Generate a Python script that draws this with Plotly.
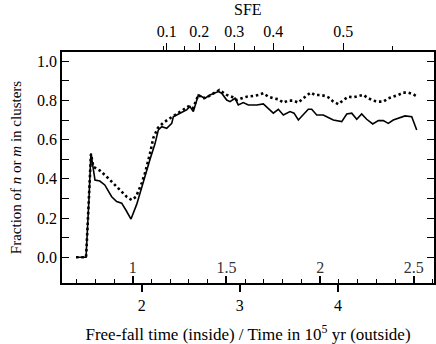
import plotly.graph_objects as go

# time in 1e5 yr (outer bottom axis) and cluster fractions
T_SOLID = [1.331, 1.433, 1.463, 1.483, 1.524, 1.573, 1.624, 1.655, 1.694, 1.745,
           1.796, 1.840, 1.891, 1.949, 1.983, 2.034, 2.085, 2.136, 2.169, 2.204,
           2.255, 2.306, 2.322, 2.390, 2.458, 2.492, 2.526, 2.577, 2.611, 2.645,
           2.696, 2.747, 2.780, 2.815, 2.866, 2.900, 2.951, 2.984, 3.035, 3.086,
           3.172, 3.239, 3.290, 3.341, 3.392, 3.443, 3.511, 3.552, 3.596, 3.646,
           3.697, 3.732, 3.783, 3.850, 3.911, 3.952, 4.038, 4.089, 4.140, 4.191,
           4.241, 4.292, 4.354, 4.411, 4.462, 4.512, 4.563, 4.632, 4.683, 4.751,
           4.802]
N_FRAC = [0.0, 0.0, 0.30, 0.530, 0.394, 0.389, 0.369, 0.345, 0.309, 0.284,
          0.276, 0.240, 0.195, 0.270, 0.330, 0.410, 0.500, 0.580, 0.649, 0.666,
          0.658, 0.683, 0.717, 0.735, 0.752, 0.769, 0.743, 0.828, 0.819, 0.811,
          0.828, 0.837, 0.845, 0.837, 0.802, 0.794, 0.811, 0.777, 0.789, 0.777,
          0.777, 0.782, 0.760, 0.735, 0.755, 0.726, 0.743, 0.735, 0.700, 0.726,
          0.755, 0.755, 0.726, 0.726, 0.709, 0.700, 0.692, 0.731, 0.735, 0.704,
          0.731, 0.704, 0.680, 0.697, 0.697, 0.683, 0.700, 0.714, 0.721, 0.717,
          0.649]

T_DOT = [1.331, 1.382, 1.433, 1.448, 1.463, 1.483, 1.507, 1.575, 1.643, 1.711,
         1.779, 1.847, 1.898, 1.942, 2.000, 2.034, 2.085, 2.118, 2.166, 2.220,
         2.288, 2.373, 2.424, 2.475, 2.523, 2.577, 2.625, 2.676, 2.747, 2.791,
         2.815, 2.866, 2.917, 2.968, 3.019, 3.070, 3.137, 3.188, 3.239, 3.290,
         3.341, 3.392, 3.443, 3.494, 3.545, 3.596, 3.646, 3.687, 3.722, 3.766,
         3.817, 3.868, 3.901, 3.952, 4.003, 4.054, 4.105, 4.156, 4.207, 4.258,
         4.309, 4.360, 4.411, 4.462, 4.512, 4.563, 4.614, 4.665, 4.716, 4.761,
         4.795]
M_FRAC = [0.0, 0.0, 0.0, 0.15, 0.30, 0.527, 0.462, 0.442, 0.411, 0.378,
          0.343, 0.309, 0.292, 0.309, 0.378, 0.430, 0.530, 0.609, 0.660, 0.686,
          0.709, 0.735, 0.752, 0.769, 0.760, 0.828, 0.810, 0.820, 0.840, 0.853,
          0.845, 0.828, 0.819, 0.802, 0.811, 0.819, 0.823, 0.828, 0.837, 0.819,
          0.811, 0.806, 0.789, 0.799, 0.799, 0.789, 0.811, 0.828, 0.840, 0.828,
          0.828, 0.823, 0.816, 0.794, 0.781, 0.802, 0.819, 0.816, 0.823, 0.828,
          0.811, 0.799, 0.794, 0.794, 0.811, 0.819, 0.828, 0.840, 0.840, 0.833,
          0.823]

# top axis: star formation efficiency at given times
SFE_MAJOR_T = [2.254, 2.586, 2.944, 3.341, 4.054]
SFE_MAJOR_LABELS = ["0.1", "0.2", "0.3", "0.4", "0.5"]
SFE_MINOR_T = [2.220, 2.441, 2.747, 3.148, 3.652, 4.557]

# inner bottom axis: free-fall times
FF_TICKS = [1, 1.5, 2, 2.5]
FF_LABELS = ["1", "1.5", "2", "2.5"]
FF_MINOR = [0.7, 0.8, 0.9, 1.1, 1.2, 1.3, 1.4, 1.6, 1.7, 1.8, 1.9,
            2.1, 2.2, 2.3, 2.4, 2.6]
T_FF = 1.909  # 1e5 yr per free-fall time

TIME_TICKS = [2, 3, 4]
Y_TICKS = [0.0, 0.1, 0.2, 0.3, 0.4, 0.5, 0.6, 0.7, 0.8, 0.9, 1.0]
Y_LABELS = ["0.0", "", "0.2", "", "0.4", "", "0.6", "", "0.8", "", "1.0"]

X_RANGE = [1.188, 4.978]
Y_RANGE = [-0.131, 1.047]

FONT = "Liberation Serif, Times New Roman, Times, DejaVu Serif, serif"

fig = go.Figure()
fig.add_trace(go.Scatter(x=T_SOLID, y=N_FRAC, mode="lines",
                         line=dict(color="black", width=1.6)))
fig.add_trace(go.Scatter(x=T_DOT, y=M_FRAC, mode="lines",
                         line=dict(color="black", width=2.6, dash="2.5px,2.8px")))
# empty traces so the overlaid axes get drawn
fig.add_trace(go.Scatter(x=[None], y=[None], xaxis="x2", yaxis="y",
                         hoverinfo="skip"))
fig.add_trace(go.Scatter(x=[None], y=[None], xaxis="x3", yaxis="y",
                         hoverinfo="skip"))

fig.update_layout(
    width=436, height=344,
    margin=dict(l=62, r=2, t=52, b=61),
    paper_bgcolor="white", plot_bgcolor="white",
    showlegend=False,
    font=dict(family=FONT, size=16, color="black"),
    xaxis=dict(
        range=X_RANGE, tickmode="array", tickvals=TIME_TICKS,
        ticks="outside", ticklen=7, tickwidth=1.5, tickcolor="black",
        ticklabelstandoff=0,
        showline=True, linecolor="black", linewidth=1.5,
        showgrid=False, zeroline=False, automargin=False,
        title=dict(text="Free-fall time (inside) / Time in 10<sup>5</sup> yr (outside)",
                   font=dict(size=17), standoff=16),
    ),
    xaxis2=dict(
        overlaying="x", side="top", anchor="y",
        range=X_RANGE, tickmode="array", tickvals=SFE_MAJOR_T,
        ticktext=SFE_MAJOR_LABELS,
        ticks="outside", ticklen=7, tickwidth=1.3, tickcolor="black",
        minor=dict(tickmode="array", tickvals=SFE_MINOR_T, ticks="outside",
                   ticklen=4, tickwidth=1.3, tickcolor="black"),
        showline=True, linecolor="black", linewidth=1.5,
        showgrid=False, zeroline=False, automargin=False,
    ),
    xaxis3=dict(
        overlaying="x", side="bottom", anchor="y",
        range=[X_RANGE[0] / T_FF, X_RANGE[1] / T_FF],
        tickmode="array", tickvals=FF_TICKS, ticktext=FF_LABELS,
        ticks="inside", ticklen=7, tickwidth=1.5, tickcolor="black",
        ticklabelposition="inside",
        minor=dict(tickmode="array", tickvals=FF_MINOR, ticks="inside",
                   ticklen=4, tickwidth=1.3, tickcolor="black"),
        showline=False, showgrid=False, zeroline=False, automargin=False,
        tickfont=dict(color="#333333"),
    ),
    yaxis=dict(
        range=Y_RANGE, tickmode="array", tickvals=Y_TICKS, ticktext=Y_LABELS,
        ticks="inside", ticklen=7, tickwidth=1.3, tickcolor="black",
        showline=True, linecolor="black", linewidth=1.5, mirror="ticks",
        showgrid=False, zeroline=False, automargin=False,
        title=dict(text="Fraction of <i>n</i> or <i>m</i> in clusters",
                   font=dict(size=15), standoff=12),
    ),
    annotations=[dict(text="SFE", xref="paper", yref="paper", x=0.5, y=1,
                      xanchor="center", yanchor="middle", yshift=43,
                      showarrow=False, font=dict(size=16))],
)

# drop the page's default body margin so the figure fills the window
fig.write_html("out.html", config={"displayModeBar": False},
               post_script="document.body.style.margin = '0';")
